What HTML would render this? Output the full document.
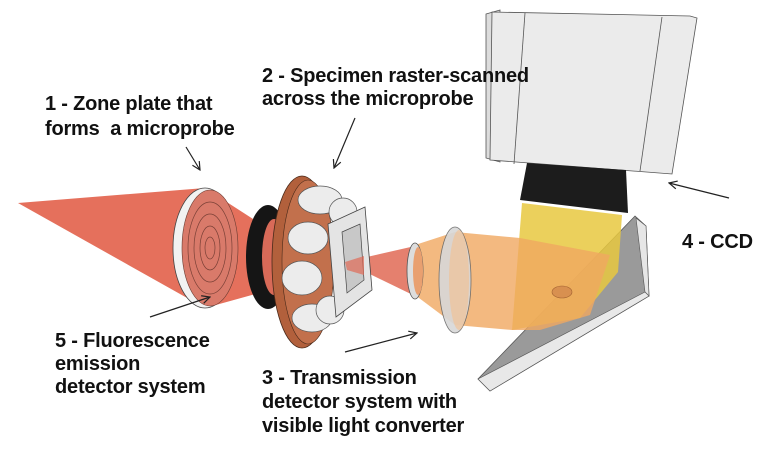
<!DOCTYPE html>
<html><head><style>
html,body{margin:0;padding:0;background:#fff;width:768px;height:449px;overflow:hidden}
svg{display:block}
text{font-family:"Liberation Sans",sans-serif;font-weight:bold;font-size:20px;fill:#111;letter-spacing:-0.2px}
</style></head><body>
<svg width="768" height="449" viewBox="0 0 768 449">
<defs>
<marker id="ah" markerWidth="10" markerHeight="10" refX="9" refY="5" orient="auto" markerUnits="userSpaceOnUse">
<path d="M1,1 L9,5 L1,9" fill="none" stroke="#222" stroke-width="1.2"/></marker>
</defs>
<!-- CCD box -->
<polygon points="486,14 500,10 500,162 486,158" fill="#dcdcdc" stroke="#555" stroke-width="0.8"/>
<polygon points="492,12 690,16 697,18 672,174 490,160" fill="#ebebeb" stroke="#555" stroke-width="0.8"/>
<line x1="525" y1="13" x2="514" y2="164" stroke="#555" stroke-width="0.8"/>
<line x1="662" y1="17" x2="640" y2="171" stroke="#555" stroke-width="0.8"/>
<!-- black collar -->
<polygon points="527,163 626,170 628,213 520,200" fill="#1c1c1c"/>
<!-- mirror -->
<polygon points="635,216 646,226 649,296 490,391 478,379" fill="#9a9a9a" stroke="#555" stroke-width="0.8"/>
<polygon points="646,226 649,296 645,292 636,218" fill="#e6e6e6" stroke="#555" stroke-width="0.6"/>
<polygon points="478,379 490,391 649,296 645,292" fill="#e8e8e8" stroke="#555" stroke-width="0.6"/>
<!-- yellow tube -->
<polygon points="522,203 622,215 618,272 580,318 512,330" fill="#e8c840" opacity="0.85"/>
<!-- orange cone -->
<polygon points="415,245 455,232 520,238 610,255 590,315 540,330 512,330 455,325 415,295" fill="#f0a860" opacity="0.8"/>
<ellipse cx="562" cy="292" rx="10" ry="6" fill="#d89050" stroke="#a06030" stroke-width="0.6"/>
<ellipse cx="455" cy="280" rx="16" ry="53" fill="#d8d8d8" stroke="#666" stroke-width="0.8" opacity="0.9"/>
<ellipse cx="459" cy="280" rx="10" ry="50" fill="#f3c090" opacity="0.6"/>
<!-- red beam between -->
<polygon points="345,262 415,246 415,296" fill="#e06a55" opacity="0.85"/>
<ellipse cx="415" cy="271" rx="8" ry="28" fill="#ddd" stroke="#555" stroke-width="0.8"/>
<ellipse cx="418" cy="271" rx="5" ry="24" fill="#e9a070"/>
<!-- left red cone -->
<polygon points="18,203 205,188 270,230 345,262 270,290 205,308" fill="#e5705c"/>
<ellipse cx="205" cy="248" rx="32" ry="60" fill="#f2f2f2" stroke="#444" stroke-width="0.8"/>
<ellipse cx="210" cy="248" rx="28" ry="58" fill="#d97a6a" stroke="#6a3a30" stroke-width="0.6"/>
<g fill="none" stroke="#7a4036" stroke-width="0.7">
<ellipse cx="210" cy="248" rx="22" ry="46"/><ellipse cx="210" cy="248" rx="16" ry="34"/>
<ellipse cx="210" cy="248" rx="10" ry="22"/><ellipse cx="210" cy="248" rx="5" ry="11"/></g>
<!-- black ring -->
<ellipse cx="268" cy="257" rx="22" ry="52" fill="#151515"/>
<ellipse cx="274" cy="257" rx="12" ry="38" fill="#d86a58"/>
<!-- brown disk -->
<ellipse cx="302" cy="262" rx="30" ry="86" fill="#b2603c" stroke="#4a2a1a" stroke-width="0.8"/>
<ellipse cx="308" cy="262" rx="26" ry="82" fill="#c2704c" stroke="#4a2a1a" stroke-width="0.6"/>
<!-- detector cups -->
<g fill="#ececec" stroke="#555" stroke-width="0.7">
<ellipse cx="320" cy="200" rx="22" ry="14"/><ellipse cx="343" cy="212" rx="14" ry="14"/>
<ellipse cx="308" cy="238" rx="20" ry="16"/><ellipse cx="302" cy="278" rx="20" ry="17"/>
<ellipse cx="312" cy="318" rx="20" ry="14"/><ellipse cx="330" cy="310" rx="14" ry="14"/>
</g>
<!-- specimen frame -->
<polygon points="328,224 365,207 372,290 336,317" fill="#e4e4e4" stroke="#444" stroke-width="0.8"/>
<polygon points="342,232 360,224 364,280 347,293" fill="#c8c8c8" stroke="#444" stroke-width="0.7"/>
<polygon points="345,262 364,256 364,275 347,270" fill="#e06a55" opacity="0.7"/>
<!-- arrows -->
<g stroke="#222" stroke-width="1.2" fill="none" marker-end="url(#ah)">
<line x1="186" y1="147" x2="200" y2="170"/>
<line x1="355" y1="118" x2="334" y2="168"/>
<line x1="729" y1="198" x2="669" y2="183"/>
<line x1="150" y1="317" x2="210" y2="297"/>
<line x1="345" y1="352" x2="417" y2="333"/>
</g>
<text x="45" y="110">1 - Zone plate that</text>
<text x="45" y="135">forms&#160; a microprobe</text>
<text x="262" y="82">2 - Specimen raster-scanned</text>
<text x="262" y="105">across the microprobe</text>
<text x="682" y="248">4 - CCD</text>
<text x="55" y="347">5 - Fluorescence</text>
<text x="55" y="370">emission</text>
<text x="55" y="393">detector system</text>
<text x="262" y="384">3 - Transmission</text>
<text x="262" y="408">detector system with</text>
<text x="262" y="432">visible light converter</text>
</svg>
</body></html>
